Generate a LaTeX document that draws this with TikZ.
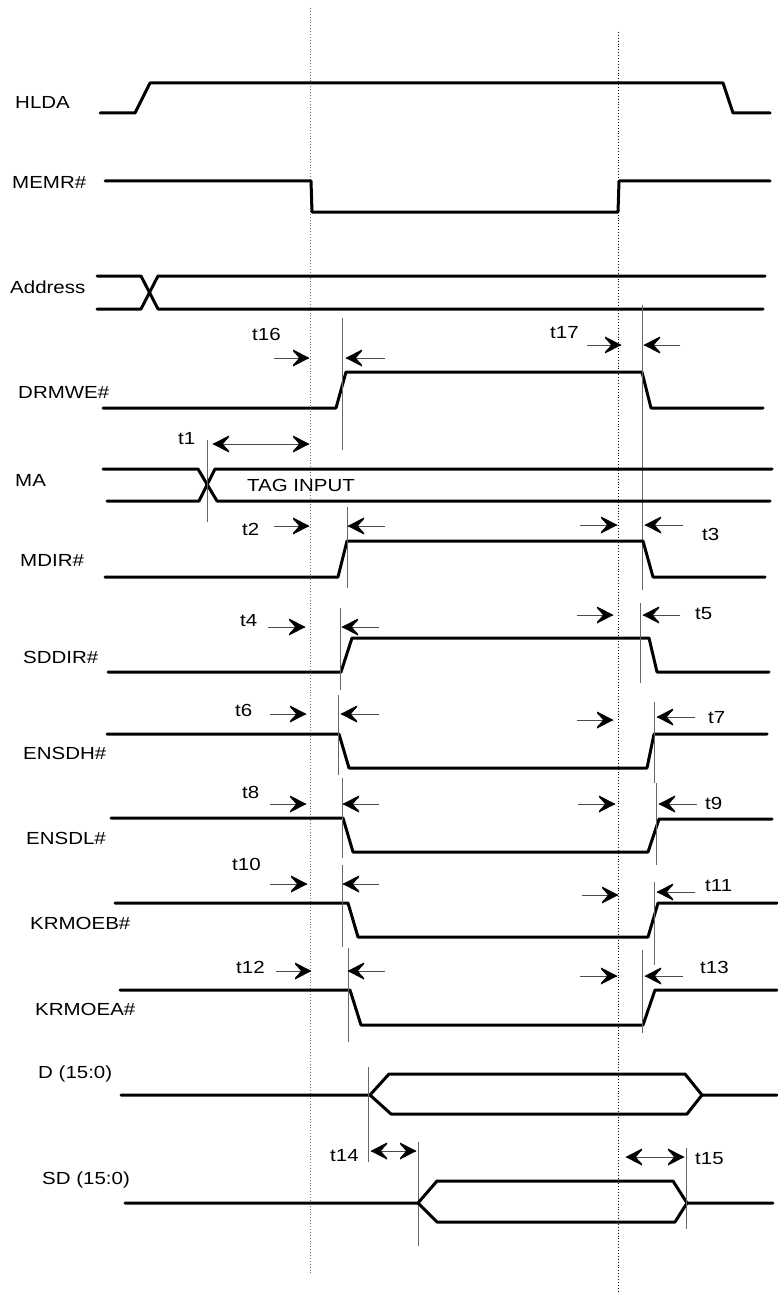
\documentclass[tikz,border=0pt]{standalone}
\usepackage{fontspec}
\setmainfont{Liberation Sans}
\newcommand\tdR[3]{\draw[meas] (#1,#3) -- (#2,#3); \pic at (#2,#3) {rh};}
\newcommand\tdL[3]{\draw[meas] (#1,#3) -- (#2,#3); \pic[rotate=180] at (#2,#3) {rh};}
\newcommand\tdD[3]{\draw[meas] (#1,#3) -- (#2,#3); \pic at (#2,#3) {rh}; \pic[rotate=180] at (#1,#3) {rh};}
\begin{document}
\begin{tikzpicture}[x=1pt,y=-1pt,
  sig/.style={line width=3pt,line cap=round,line join=round},
  thin/.style={line width=0.9pt,draw=black!60},
  guide/.style={line width=0.9pt,dotted},
  meas/.style={line width=0.9pt,draw=black!70},
  rh/.pic={\fill[black] (0.5,0) -- (-16,-8.5) -- (-16,-6.8) .. controls (-12,-2.5) .. (-10,0) .. controls (-12,2.5) .. (-16,6.8) -- (-16,8.5) -- cycle;},
  lbl/.style={inner sep=0pt,anchor=base west,font=\fontsize{17.5}{20}\selectfont,xscale=1.17,transform shape}]
\useasboundingbox (0,0) rectangle (777,1292);
% guide lines
\draw[guide,draw=black!55] (310,8) -- (310,1274);
\draw[guide] (618,32) -- (618,1292);
% labels
\node[lbl] (lHLDA) at (15,109) {HLDA};
\node[lbl] (lMEMR) at (12,189) {MEMR\#};
\node[lbl] (lAddr) at (10,293) {Address};
\node[lbl] (lDRMWE) at (18,398) {DRMWE\#};
\node[lbl] (lMA) at (15,486) {MA};
\node[lbl] (lTAG) at (247,491) {TAG INPUT};
\node[lbl] (lMDIR) at (20,566) {MDIR\#};
\node[lbl] (lSDDIR) at (23,663) {SDDIR\#};
\node[lbl] (lENSDH) at (23,759) {ENSDH\#};
\node[lbl] (lENSDL) at (26,844) {ENSDL\#};
\node[lbl] (lKRMOEB) at (30,929) {KRMOEB\#};
\node[lbl] (lKRMOEA) at (35,1015) {KRMOEA\#};
\node[lbl] (lD) at (38,1078) {D (15:0)};
\node[lbl] (lSD) at (42,1184) {SD (15:0)};
\node[lbl] (t16) at (252,340) {t16};
\node[lbl] (t17) at (550,338) {t17};
\node[lbl] (t1) at (178,444) {t1};
\node[lbl] (t2) at (242,535) {t2};
\node[lbl] (t3) at (702,540) {t3};
\node[lbl] (t4) at (240,626) {t4};
\node[lbl] (t5) at (695,619) {t5};
\node[lbl] (t6) at (235,716) {t6};
\node[lbl] (t7) at (708,723) {t7};
\node[lbl] (t8) at (242,798) {t8};
\node[lbl] (t9) at (705,809) {t9};
\node[lbl] (t10) at (232,870) {t10};
\node[lbl] (t11) at (705,891) {t11};
\node[lbl] (t12) at (236,973) {t12};
\node[lbl] (t13) at (700,973) {t13};
\node[lbl] (t14) at (330,1161) {t14};
\node[lbl] (t15) at (695,1164) {t15};
% HLDA
\draw[sig] (100,113) -- (135,113) -- (150,83) -- (723,83) -- (733,113) -- (770,113);
% MEMR#
\draw[sig] (105,181) -- (311,181) -- (312,212) -- (618,212) -- (619,181) -- (770,181);
% Address
\draw[sig] (97,276) -- (141,276) -- (158,309) -- (763,309);
\draw[sig] (97,309) -- (141,309) -- (158,276) -- (765,276);
% DRMWE#
\draw[sig] (103,408) -- (336,408) -- (346,372) -- (642,372) -- (651,408) -- (763,408);
\draw[thin] (342,318) -- (342,450);
\draw[thin] (642,305) -- (642,590);
\tdR{274}{309}{358}
\tdL{385}{346}{358}
\tdR{587}{621}{345}
\tdL{680}{644}{345}
% MA
\draw[sig] (103,469) -- (198,469) -- (217,501) -- (770,501);
\draw[sig] (107,501) -- (199,501) -- (215,469) -- (772,469);
\draw[thin] (207,440) -- (207,522);
\tdD{213}{309}{444}
% MDIR#
\draw[sig] (105,577) -- (338,577) -- (347,541) -- (643,541) -- (653,577) -- (765,577);
\draw[thin] (347,507) -- (347,588);
\tdR{274}{309}{526}
\tdL{385}{348}{526}
\tdR{580}{617}{525}
\tdL{683}{645}{525}
% SDDIR#
\draw[sig] (108,672) -- (341,672) -- (352,638) -- (649,638) -- (657,672) -- (769,672);
\draw[thin] (340,608) -- (340,690);
\draw[thin] (640,603) -- (640,683);
\tdR{268}{305}{627}
\tdL{379}{342}{627}
\tdR{577}{613}{615}
\tdL{680}{643}{615}
% ENSDH#
\draw[sig] (107,734) -- (339,734) -- (349,768) -- (647,768) -- (654,734) -- (767,734);
\draw[thin] (338,695) -- (338,775);
\draw[thin] (654,702) -- (654,783);
\tdR{270}{306}{714}
\tdL{379}{341}{714}
\tdR{577}{613}{720}
\tdL{695}{657}{717}
% ENSDL#
\draw[sig] (111,818) -- (343,818) -- (353,852) -- (648,852) -- (659,819) -- (772,819);
\draw[thin] (342,778) -- (342,858);
\draw[thin] (656,783) -- (656,865);
\tdR{270}{306}{804}
\tdL{379}{343}{804}
\tdR{578}{615}{804}
\tdL{697}{659}{804}
% KRMOEB#
\draw[sig] (115,903) -- (348,903) -- (358,937) -- (648,937) -- (658,903) -- (777,903);
\draw[thin] (342,865) -- (342,947);
\draw[thin] (654,882) -- (654,965);
\tdR{270}{307}{884}
\tdL{379}{343}{884}
\tdR{582}{618}{895}
\tdL{695}{657}{892}
% KRMOEA#
\draw[sig] (120,990) -- (350,990) -- (361,1025) -- (643,1025) -- (655,990) -- (777,990);
\draw[thin] (348,948) -- (348,1042);
\draw[thin] (642,950) -- (642,1033);
\tdR{276}{311}{971}
\tdL{385}{348}{971}
\tdR{580}{617}{976}
\tdL{683}{645}{976}
% D (15:0)
\draw[sig] (121,1095) -- (370,1095) -- (389,1074) -- (685,1074) -- (702,1095) -- (777,1095);
\draw[sig] (370,1095) -- (391,1114) -- (687,1114) -- (702,1095);
\draw[thin] (368,1067) -- (368,1162);
\draw[thin] (418,1142) -- (418,1246);
\tdD{371}{416}{1151}
% SD (15:0)
\draw[sig] (125,1203) -- (418,1203) -- (437,1181) -- (673,1181) -- (687,1203) -- (773,1203);
\draw[sig] (418,1203) -- (437,1222) -- (675,1222) -- (687,1203);
\draw[thin] (686,1148) -- (686,1229);
\tdD{626}{684}{1157}
\end{tikzpicture}
\end{document}
